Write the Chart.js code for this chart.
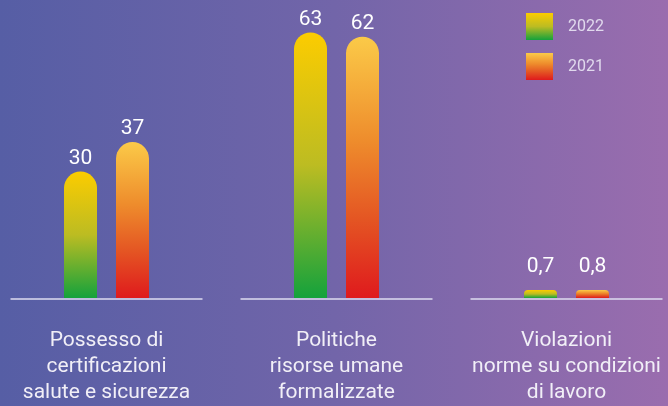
<!DOCTYPE html>
<html>
<head>
<meta charset="utf-8">
<script src="https://cdn.jsdelivr.net/npm/chart.js@4"></script>
<style>
  html, body { margin: 0; padding: 0; }
  body {
    width: 668px; height: 406px; overflow: hidden;
    background: linear-gradient(to right, #565ea5 0%, #7265a9 50%, #9a6dae 100%);
  }
  #wrap { position: relative; width: 668px; height: 406px; }
</style>
</head>
<body>
<div id="wrap"><canvas id="myChart"></canvas></div>
<script>
  const categories = [
    ['Possesso di', 'certificazioni', 'salute e sicurezza'],
    ['Politiche', 'risorse umane', 'formalizzate'],
    ['Violazioni', 'norme su condizioni', 'di lavoro']
  ];
  const seriesNames = ['2022', '2021'];
  const values2022 = [30, 63, 0.7];
  const values2021 = [37, 62, 0.8];

  const MIN_BAR = 8;

  // colour stops, top of bar -> bottom of bar
  const stops2022 = [[0, '#fccc00'], [0.5, '#bcbc22'], [1, '#14a23c']];
  const stops2021 = [[0, '#fbca48'], [0.4, '#ee8c2c'], [0.7, '#e45523'], [1, '#df1a1d']];

  function makeGradient(c, top, bottom, stops) {
    const g = c.createLinearGradient(0, top, 0, bottom);
    stops.forEach(([o, col]) => g.addColorStop(o, col));
    return g;
  }

  function barFill(stops) {
    return (context) => {
      const chart = context.chart;
      if (!chart.chartArea) return stops[0][1];
      const y = chart.scales.y;
      const base = y.getPixelForValue(0);
      const top = Math.min(y.getPixelForValue(context.raw), base - MIN_BAR);
      return makeGradient(chart.ctx, top, base, stops);
    };
  }

  const fmt = v => String(v).replace('.', ',');

  // short baseline under each group
  const baselines = {
    id: 'baselines',
    beforeDatasetsDraw(chart) {
      const { ctx, chartArea, scales } = chart;
      ctx.save();
      ctx.strokeStyle = 'rgba(222, 220, 240, 0.75)';
      ctx.lineWidth = 2;
      categories.forEach((_, i) => {
        const x = scales.x.getPixelForValue(i);
        ctx.beginPath();
        ctx.moveTo(x - 96, chartArea.bottom + 1);
        ctx.lineTo(x + 96, chartArea.bottom + 1);
        ctx.stroke();
      });
      ctx.restore();
    }
  };

  const valueLabels = {
    id: 'valueLabels',
    afterDatasetsDraw(chart) {
      const { ctx } = chart;
      ctx.save();
      ctx.font = '21px Roboto';
      ctx.fillStyle = '#ffffff';
      ctx.textAlign = 'center';
      ctx.textBaseline = 'middle';
      chart.data.datasets.forEach((ds, di) => {
        chart.getDatasetMeta(di).data.forEach((bar, i) => {
          const y = Math.min(bar.y, bar.base - 18) - 13;
          ctx.fillText(fmt(ds.data[i]), bar.x, y);
        });
      });
      ctx.restore();
    }
  };

  const sideLegend = {
    id: 'sideLegend',
    afterDraw(chart) {
      const { ctx } = chart;
      const all = [stops2022, stops2021];
      ctx.save();
      ctx.font = '16px Roboto';
      ctx.textBaseline = 'middle';
      seriesNames.forEach((name, i) => {
        const top = 13 + i * 40;
        ctx.fillStyle = makeGradient(ctx, top, top + 27, all[i]);
        ctx.fillRect(526, top, 27, 27);
        ctx.fillStyle = 'rgba(236, 232, 246, 0.88)';
        ctx.fillText(name, 568, top + 14);
      });
      ctx.restore();
    }
  };

  new Chart(document.getElementById('myChart'), {
    type: 'bar',
    data: {
      labels: categories,
      datasets: [
        { label: seriesNames[0], data: values2022, backgroundColor: barFill(stops2022) },
        { label: seriesNames[1], data: values2021, backgroundColor: barFill(stops2021) }
      ]
    },
    options: {
      responsive: true,
      maintainAspectRatio: false,
      animation: false,
      layout: { padding: { left: 106.5, right: 101.5, top: 3, bottom: 0 } },
      datasets: {
        bar: {
          clip: false,
          categoryPercentage: 104 / 230,
          barPercentage: 33 / 52,
          minBarLength: MIN_BAR,
          borderRadius: { topLeft: 17, topRight: 17 },
          borderSkipped: 'start'
        }
      },
      scales: {
        x: {
          offset: false,
          grid: { display: false, drawTicks: false },
          border: { display: false },
          ticks: {
            color: '#f1eff7',
            font: { family: 'Roboto', size: 21, lineHeight: '26px' },
            padding: 30,
            maxRotation: 0,
            autoSkip: false
          },
          afterFit(scale) {
            // fixed band for the labels; the side padding is already in layout
            scale.height = 108;
            scale.paddingLeft = 0;
            scale.paddingRight = 0;
          }
        },
        y: {
          display: false,
          min: 0,
          max: 70
        }
      },
      plugins: {
        legend: { display: false },
        tooltip: { enabled: false }
      }
    },
    plugins: [baselines, valueLabels, sideLegend]
  });
</script>
</body>
</html>
